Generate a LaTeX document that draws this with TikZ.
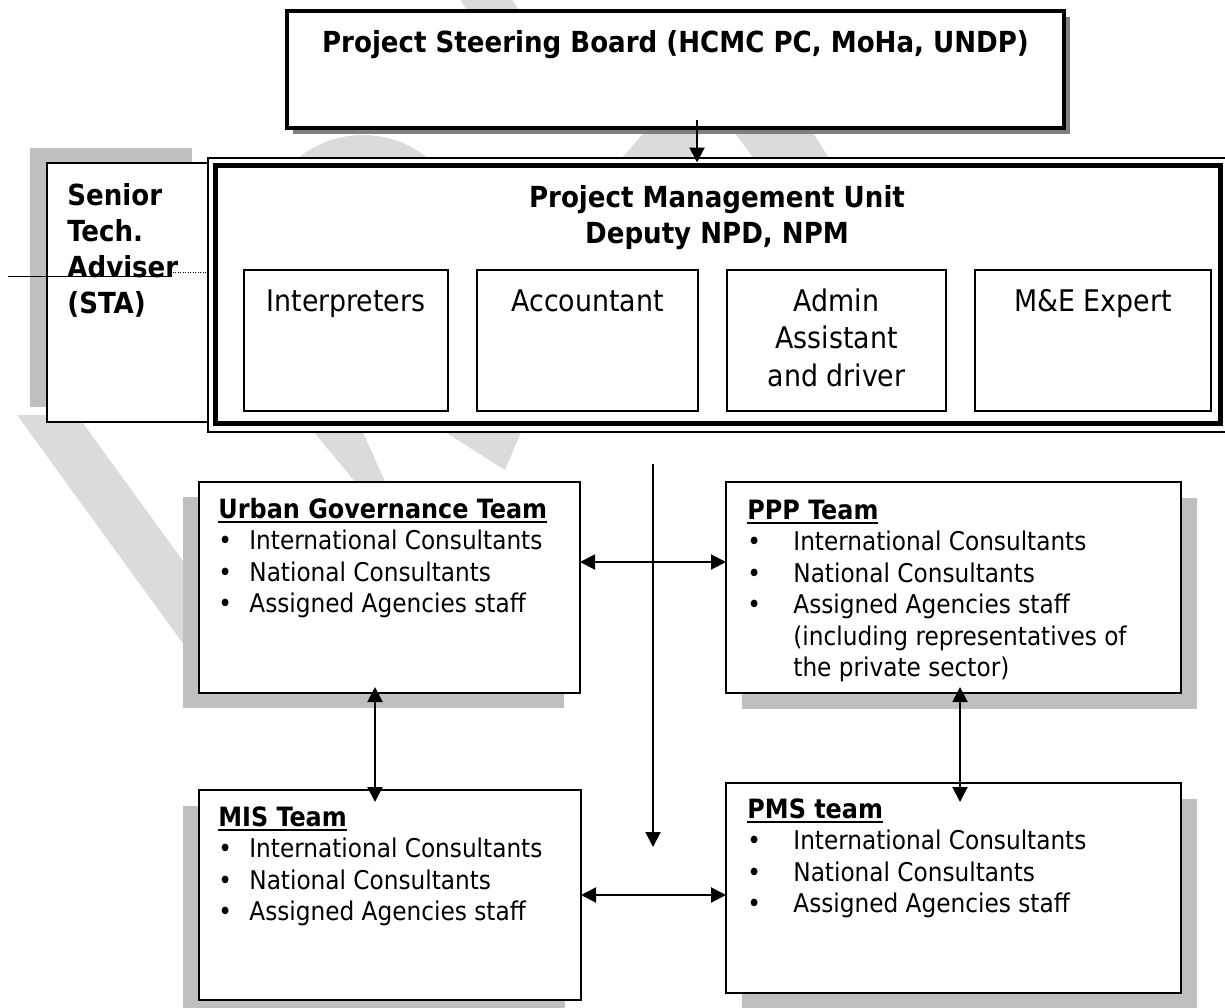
\documentclass[tikz,border=0pt]{standalone}
\usepackage{fontspec}
\setmainfont{DejaVu Sans Condensed}
\usetikzlibrary{arrows.meta,shadows}
\definecolor{shadelight}{gray}{0.75}
\definecolor{shadedark}{gray}{0.5}
\definecolor{wmark}{gray}{0.86}
\tikzset{
  box/.style={draw,line width=1pt,fill=white,inner sep=0pt,outer sep=0pt,anchor=north west},
  boxsize/.style 2 args={minimum width=#1*0.5pt,minimum height=#2*0.5pt},
  lshadow/.style 2 args={general shadow={fill=shadelight,shadow xshift=#1,shadow yshift=#2}},
  dshadow/.style={general shadow={fill=shadedark,shadow xshift=3pt,shadow yshift=-3pt}},
  bodytxt/.style={inner sep=0pt,anchor=base west,font=\fontsize{12.9pt}{15.75pt}\selectfont},
  headtxt/.style={inner sep=0pt,font=\bfseries\fontsize{14.5pt}{18pt}\selectfont},
  subtxt/.style={inner sep=0pt,anchor=base,font=\fontsize{14.9pt}{18.75pt}\selectfont},
  arr/.style={line width=1pt,-{Triangle[length=7.5pt,width=7.5pt]}},
  darr/.style={line width=1pt,{Triangle[length=7.5pt,width=7.5pt]}-{Triangle[length=7.5pt,width=7.5pt]}}
}
\newcommand{\ttl}[1]{\setbox0\hbox{\bfseries\fontsize{13.3pt}{15.75pt}\selectfont #1}\rlap{\rule[-2.6pt]{\wd0}{1.1pt}}\box0}
\newcommand{\bul}[1]{\makebox[#1][l]{\textbullet}}

\begin{document}
\begin{tikzpicture}[x=0.5pt,y=-0.5pt]
\useasboundingbox (0,0) rectangle (1225,1007);

% watermark pieces behind the boxes
\fill[wmark] (17,415) -- (77,415) -- (284,700) -- (224,700) -- cycle;
\fill[wmark] (363,238) circle[radius=103];
\fill[wmark] (620,160) -- (655,120) -- (705,120) -- (690,160) -- cycle;
\fill[wmark] (725,120) -- (805,120) -- (830,160) -- (755,160) -- cycle;
\fill[wmark] (312,430) -- (362,430) -- (386,484) -- (357,484) -- cycle;
\fill[wmark] (442,430) -- (522,430) -- (505,470) -- cycle;
\fill[wmark] (460,0) -- (512,0) -- (522,14) -- (470,14) -- cycle;

% steering board
\node[box,line width=1.6pt,boxsize={777}{117},dshadow] (steer) at (287,11) {};
\node[headtxt,anchor=base] (steertxt) at (675.5,52) {Project Steering Board (HCMC PC, MoHa, UNDP)};

% senior technical adviser
\node[box,boxsize={162}{259},lshadow={-8.5pt}{7.5pt}] (sta) at (47,163) {};
\node[headtxt,anchor=base west] (statxt) at (67,205)
  {\begin{tabular}[t]{@{}l@{}}Senior\\Tech.\\Adviser\\(STA)\end{tabular}};
\coordinate (advL) at (8,276);
\coordinate (advR) at (170,276);
\draw[line width=0.5pt] (advL) -- (advR);
\coordinate (dotL) at (170,272);
\draw[line width=0.5pt,dash pattern=on 0.6pt off 0.65pt] (dotL) -- (dotL -| sta.east);

% project management unit
\node[box,line width=0.7pt,boxsize={1019}{274}] (pmuframe) at (208,158) {};
\node[box,line width=2.5pt,boxsize={1005}{258}] (pmu) at (215,165) {};
\node[headtxt,anchor=base] (pmutxt) at (717,207)
  {\begin{tabular}[t]{@{}c@{}}Project Management Unit\\Deputy NPD, NPM\end{tabular}};

\node[box,boxsize={204}{141}] (interp) at (244,270) {};
\node[box,boxsize={221}{141}] (acct) at (477,270) {};
\node[box,boxsize={219}{141}] (admin) at (727,270) {};
\node[box,boxsize={236}{141}] (mne) at (975,270) {};
\node[subtxt] (interptxt) at ([yshift=-20.5pt]interp.north) {Interpreters};
\node[subtxt] (accttxt) at ([yshift=-20.5pt]acct.north) {Accountant};
\node[subtxt] (admintxt) at ([yshift=-20.5pt]admin.north)
  {\begin{tabular}[t]{@{}c@{}}Admin\\Assistant\\and driver\end{tabular}};
\node[subtxt] (mnetxt) at ([yshift=-20.5pt]mne.north) {M\&E Expert};

% teams
\node[box,boxsize={381}{211},lshadow={-8pt}{-7.5pt}] (ug) at (199,482) {};
\node[box,boxsize={455}{211},lshadow={8pt}{-8pt}] (ppp) at (726,482) {};
\node[box,boxsize={382}{210},lshadow={-8pt}{-8pt}] (mis) at (199,790) {};
\node[box,boxsize={455}{210},lshadow={8pt}{-8pt}] (pms) at (726,783) {};

\node[bodytxt] (ugtxt) at ([shift={(9.5pt,-18pt)}]ug.north west)
  {\begin{tabular}[t]{@{}l@{}}\ttl{Urban Governance Team}\\
   \bul{15.5pt}International Consultants\\
   \bul{15.5pt}National Consultants\\
   \bul{15.5pt}Assigned Agencies staff\end{tabular}};
\node[bodytxt] (ppptxt) at ([shift={(10.5pt,-18.5pt)}]ppp.north west)
  {\begin{tabular}[t]{@{}l@{}}\ttl{PPP Team}\\
   \bul{23pt}International Consultants\\
   \bul{23pt}National Consultants\\
   \bul{23pt}Assigned Agencies staff\\
   \hspace*{23pt}(including representatives of\\
   \hspace*{23pt}the private sector)\end{tabular}};
\node[bodytxt] (mistxt) at ([shift={(9.5pt,-18pt)}]mis.north west)
  {\begin{tabular}[t]{@{}l@{}}\ttl{MIS Team}\\
   \bul{15.5pt}International Consultants\\
   \bul{15.5pt}National Consultants\\
   \bul{15.5pt}Assigned Agencies staff\end{tabular}};
\node[bodytxt] (pmstxt) at ([shift={(10.5pt,-17.5pt)}]pms.north west)
  {\begin{tabular}[t]{@{}l@{}}\ttl{PMS team}\\
   \bul{23pt}International Consultants\\
   \bul{23pt}National Consultants\\
   \bul{23pt}Assigned Agencies staff\end{tabular}};

% connectors
\draw[arr,shorten <=-4pt,shorten >=1.25pt] ([xshift=10.75pt]steer.south) -- ([xshift=10.75pt]steer.south |- pmu.north);
\coordinate (ctop) at (653,464);
\coordinate (cbot) at (653,847);
\draw[arr] (ctop) -- (cbot);
\draw[darr] ([yshift=12.75pt]ug.east) -- ([yshift=12.75pt]ug.east -| ppp.west);
\draw[darr] (mis.east) -- (mis.east -| pms.west);
\draw[darr,shorten <=-3pt,shorten >=-6pt] ([xshift=-7.25pt]ug.south) -- ([xshift=-7.25pt]ug.south |- mis.north);
\draw[darr,shorten <=-3pt,shorten >=-9.5pt] ([xshift=3.25pt]ppp.south) -- ([xshift=3.25pt]ppp.south |- pms.north);
\end{tikzpicture}
\end{document}
